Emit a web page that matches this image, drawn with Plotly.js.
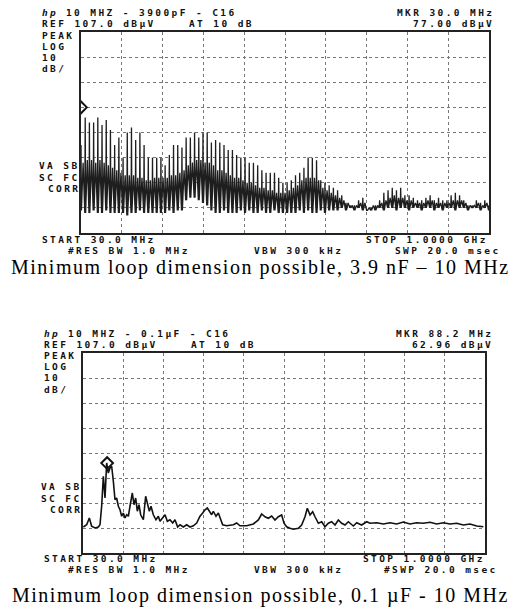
<!DOCTYPE html>
<html>
<head>
<meta charset="utf-8">
<script src="https://cdn.plot.ly/plotly-3.0.1.min.js"></script>
<style>
html,body{margin:0;padding:0;background:#fff;}
#chart{width:521px;height:612px;}
text.annotation-text[style*="Mono"]{letter-spacing:2.4px;}
text.annotation-text[style*="Serif"]{letter-spacing:1.5px;}
</style>
</head>
<body>
<div id="chart"></div>
<script>
// ---------- DATA ----------
// Upper sweep: 3900 pF, comb of 10 MHz harmonics (MHz)
const topHarmonicMHz = [30,40,50,60,70,80,90,100,110,120,130,140,150,160,170,180,190,200,210,220,230,240,250,260,270,280,290,300,310,320,330,340,350,360,370,380,390,400,410,420,430,440,450,460,470,480,490,500,510,520,530,540,550,560,570,580,590,600,610,620,630,640,650,660,670,680,690,700,710,720,730,740,750,760,770,780,790,800,810,820,830,840,850,860,870,880,890,900,910,920,930,940,950,960,970,980,990,1000];
// peak level of each harmonic (dBµV)
const topPeak = [62,73,71,71,73,70,72,68,62,65,
                 57,67,69,64,67,62,57,57,57,57,
                 54,58,62,62,61,65,65,67,65,67,
                 67,63,64,63,62,60,60,58,57,57,
                 55,55,54,52,51,51,51,49,47,47,
                 48,50,51,53,57,57,56,48,47,46,
                 45,44,42,39,38,38,40,41,36,37,
                 38,40,43,44,45,44,45,42,42,41,
                 40,40,41,42,40,41,40,40,42,43,
                 42,40,38,38,40,39,40,38];
// floor reached next to each harmonic (dBµV)
const topTrough = [36,35,35,36,35,35,36,35,35,35,
                   35,34,35,35,36,35,35,35,35,35,
                   35,36,35,36,36,40,41,41,40,39,
                   38,36,35,35,36,35,35,35,36,35,
                   36,35,35,36,35,35,36,35,35,35,
                   35,35,36,35,36,35,35,36,35,36,
                   36,36,37,36,37,36,37,36,36,36,
                   36,37,36,37,37,36,37,37,36,37,
                   37,36,37,37,36,37,36,37,37,36,
                   37,37,36,37,37,36,37,36];
// upper edge of the trace between harmonics (dBµV)
const topMid = [55,56,56,55,56,55,54,53,52,51,
                50,50,50,49,49,48,48,49,49,49,
                49,50,50,51,52,54,55,56,56,55,
                55,54,52,52,51,50,49,49,48,47,
                47,46,45,45,44,44,43,43,43,44,
                45,46,48,49,49,49,48,45,44,43,
                42,41,40,39,38,38,39,39,37,38,
                38,39,40,41,42,41,41,40,40,39,
                39,39,40,40,39,39,39,39,40,40,
                40,39,38,38,39,38,39,38];

// Lower sweep: 0.1 µF
const botFreqMHz = [30.8,38.8,45.3,50.9,59.0,67.0,71.0,75.0,79.1,83.1,
  87.1,91.1,95.2,99.2,103.2,107.2,111.2,115.3,119.3,123.3,
  127.3,131.3,135.4,139.4,143.4,149.0,153.1,157.1,161.1,165.1,
  169.2,175.6,181.2,186.0,190.1,194.1,199.7,206.1,211.8,215.8,
  222.2,227.9,233.5,239.9,246.4,252.0,258.4,264.1,272.1,280.2,
  288.2,296.2,304.3,312.3,318.8,324.4,330.0,334.8,340.5,344.5,
  350.9,356.6,362.2,367.0,376.7,392.8,400.8,408.8,424.9,
  441.0,453.1,461.1,469.2,477.2,485.3,493.3,501.3,509.4,515.0,
  521.4,529.5,537.5,549.6,557.6,565.7,571.3,577.8,584.2,589.8,
  597.9,605.9,614.0,622.0,630.0,638.1,646.1,654.2,662.2,670.2,
  682.3,690.4,702.4,714.5,722.5,738.6,754.7,770.8,786.9,803.0,
  819.1,835.1,851.2,867.3,883.4,899.5,915.6,931.7,947.7,963.8,979.9,996.0];
const botLevel = [37.4,38.3,41,37.7,37,37.4,38.3,45.7,57.7,49,
  63,59,61,61.7,55.7,48.3,49,45.7,44.3,41.7,
  43,41,42.3,41.7,45.7,51,46.3,49,43.7,46.3,
  42.3,40.3,49.7,47,43.7,45.7,42.3,40.3,41.7,39.7,
  41,42.3,39.7,40.3,39,40.3,37.4,38.3,37.4,38.3,
  37.4,37.9,39,41.7,43,44.3,45,43.7,42.3,43.7,
  41.7,43,40.3,38.3,37.9,38.3,39,37.9,37.9,
  38.6,40.2,42.6,41.5,40.9,41.8,40.2,41.5,42.2,38.9,
  37.5,36.9,36.5,36.9,38.2,41.5,44.9,42.2,43.5,41.5,
  38.9,39.5,37.5,38.9,39.5,38.2,40.2,38.9,38.2,39.5,
  37.8,39.1,38.2,39.5,38.9,39.1,38.6,39.1,38.6,39.4,
  38.6,39.1,38.9,39.3,38.6,39.1,38.6,38.9,38.2,38.6,37.8,37.5];

// Marker readouts
const mkrTop = {freq: 30.0, level: 77.00};
const mkrBot = {freq: 88.2, level: 62.96};

// Analyzer settings
const refLevel = 107.0, dbPerDiv = 10, nDivY = 8;
const startMHz = 30, stopMHz = 1000, nDivX = 10;

// ---------- BUILD ----------
const tx = [], ty = [];
topHarmonicMHz.forEach((f, k) => {
  tx.push(f - 1, f, f + 1, f + 5);
  ty.push(topTrough[k], topPeak[k], topTrough[k], topMid[k]);
});

const W = 521, H = 612;
const FONT = 'DejaVu Sans Mono, Liberation Mono, monospace';
function T(text, x, y, anchor) {
  return {
    text: '<b>' + text + '</b>', x: x / W, y: 1 - y / H, xref: 'paper', yref: 'paper',
    xanchor: anchor || 'left', yanchor: 'middle', showarrow: false, borderpad: 0,
    font: {family: FONT, size: 9.5, color: '#111'}
  };
}
function cap(text, y) {
  return {text: text, x: 0.5, y: 1 - y / H, xref: 'paper', yref: 'paper', xanchor: 'center', yanchor: 'middle',
    showarrow: false, borderpad: 0, font: {family: 'Liberation Serif, Times New Roman, serif', size: 20, color: '#000'}};
}

function xa(d0, d1, anchor) {
  return {domain: [d0 / W, d1 / W], range: [startMHz, stopMHz], tick0: startMHz, dtick: (stopMHz - startMHz) / nDivX,
    showgrid: true, gridcolor: '#777', griddash: 'dot', gridwidth: 1, showticklabels: false, ticks: '',
    zeroline: false, showline: true, mirror: true, linecolor: '#222', linewidth: 2, anchor: anchor, fixedrange: true};
}
function ya(top, bot, anchor) {
  return {domain: [1 - bot / H, 1 - top / H], range: [refLevel - dbPerDiv * nDivY, refLevel], tick0: refLevel - dbPerDiv * nDivY, dtick: dbPerDiv,
    showgrid: true, gridcolor: '#777', griddash: 'dot', gridwidth: 1, showticklabels: false, ticks: '',
    zeroline: false, showline: true, mirror: true, linecolor: '#222', linewidth: 2, anchor: anchor, fixedrange: true};
}

const traces = [
  {x: tx, y: ty, xaxis: 'x', yaxis: 'y', mode: 'lines', line: {color: '#1e1e1e', width: 1.3}, hoverinfo: 'skip'},
  {x: [mkrTop.freq], y: [mkrTop.level], xaxis: 'x', yaxis: 'y', mode: 'markers',
   marker: {symbol: 'diamond-open', size: 9, color: '#111', line: {width: 2}}},
  {x: botFreqMHz, y: botLevel, xaxis: 'x2', yaxis: 'y2', mode: 'lines', line: {color: '#111', width: 1.6}, hoverinfo: 'skip'},
  {x: [mkrBot.freq], y: [mkrBot.level], xaxis: 'x2', yaxis: 'y2', mode: 'markers',
   marker: {symbol: 'diamond-open', size: 9, color: '#111', line: {width: 2}}}
];

const ann = [
  // upper panel
  T('<i>hp</i>', 41, 12.5), T('10 MHZ - 3900pF - C16', 65, 12.5),
  T('REF 107.0 dBµV', 41, 23.7), T('AT 10 dB', 188, 23.7),
  T('MKR 30.0 MHz', 495, 12.5, 'right'), T('77.00 dBµV', 495, 23.7, 'right'),
  T('PEAK', 41, 35), T('LOG', 41, 46.2), T('10', 41, 57.4), T('dB/', 41, 68.6),
  T('VA SB', 81, 166, 'right'), T('SC FC', 81, 177.2, 'right'), T('CORR', 81, 188.4, 'right'),
  T('START 30.0 MHz', 41, 239.5), T('STOP 1.0000 GHz', 489, 239.5, 'right'),
  T('#RES BW 1.0 MHz', 67, 250.7), T('VBW 300 kHz', 253, 250.7), T('SWP 20.0 msec', 502, 250.7, 'right'),
  cap('Minimum loop dimension possible, 3.9 nF – 10 MHz', 267.5),
  // lower panel
  T('<i>hp</i>', 43, 333), T('10 MHZ - 0.1µF - C16', 67, 333),
  T('REF 107.0 dBµV', 43, 344.2), T('AT 10 dB', 190, 344.2),
  T('MKR 88.2 MHz', 494, 333, 'right'), T('62.96 dBµV', 494, 344.2, 'right'),
  T('PEAK', 43, 355.5), T('LOG', 43, 366.7), T('10', 43, 377.9), T('dB/', 43, 389.1),
  T('VA SB', 83, 487, 'right'), T('SC FC', 83, 498.2, 'right'), T('CORR', 83, 509.4, 'right'),
  T('START 30.0 MHz', 43, 558), T('STOP 1.0000 GHz', 486, 558, 'right'),
  T('#RES BW 1.0 MHz', 67, 569.2), T('VBW 300 kHz', 253, 569.2), T('#SWP 20.0 msec', 499, 569.2, 'right'),
  cap('Minimum loop dimension possible, 0.1 µF - 10 MHz', 595)
];

const layout = {
  width: W, height: H, margin: {l: 0, r: 0, t: 0, b: 0},
  paper_bgcolor: '#fff', plot_bgcolor: '#fff', showlegend: false,
  xaxis: xa(81, 489, 'y'), yaxis: ya(32, 233, 'x'),
  xaxis2: xa(83, 485, 'y2'), yaxis2: ya(353, 553, 'x2'),
  annotations: ann
};

Plotly.newPlot('chart', traces, layout, {staticPlot: true, displayModeBar: false});
</script>
</body>
</html>
